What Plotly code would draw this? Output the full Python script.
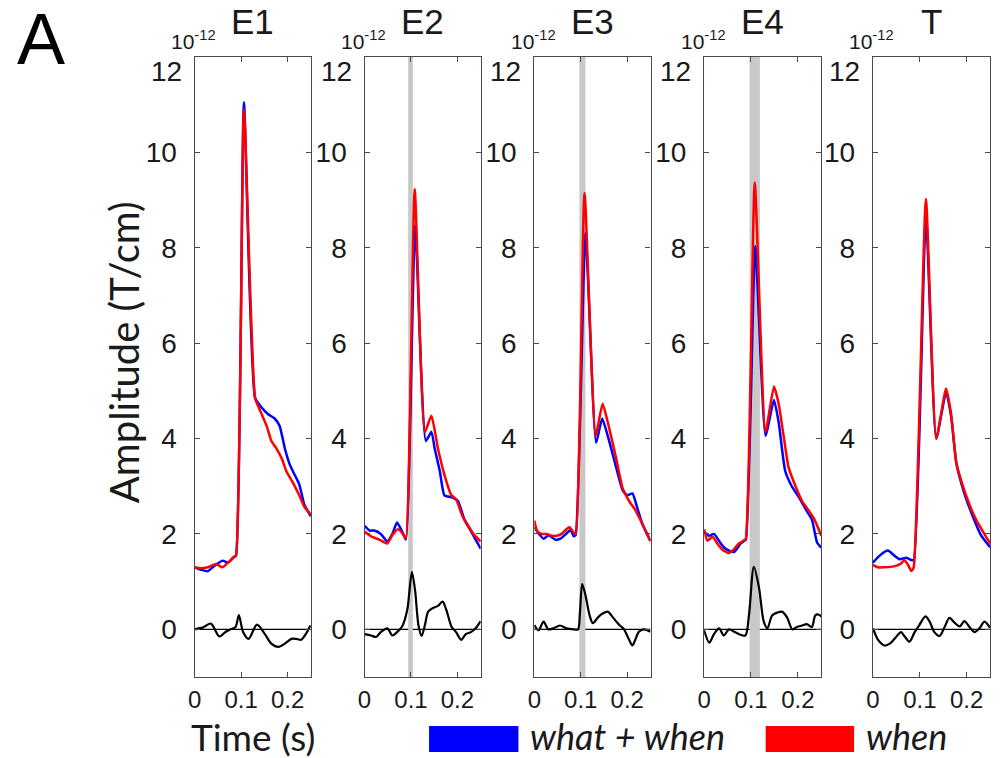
import plotly.graph_objects as go

# ---------------- data (values in 1e-12 T/cm, time in s) ----------------
panels = ["E1", "E2", "E3", "E4", "T"]

E1_t_blue = [0, 0.014, 0.028, 0.045, 0.06, 0.072, 0.085, 0.089, 0.106, 0.130, 0.144, 0.158, 0.172, 0.183, 0.194, 0.204, 0.215, 0.225, 0.236, 0.25]
E1_blue = [1.3, 1.25, 1.22, 1.35, 1.44, 1.4, 1.52, 1.55, 11.05, 4.85, 4.65, 4.51, 4.42, 4.26, 3.79, 3.47, 3.24, 3.04, 2.61, 2.37]
E1_t_red = [0, 0.014, 0.028, 0.046, 0.06, 0.074, 0.085, 0.089, 0.106, 0.130, 0.141, 0.155, 0.165, 0.176, 0.187, 0.197, 0.211, 0.225, 0.236, 0.25]
E1_red = [1.3, 1.28, 1.3, 1.37, 1.3, 1.42, 1.52, 1.55, 10.9, 4.85, 4.58, 4.26, 3.95, 3.79, 3.59, 3.32, 3.08, 2.81, 2.57, 2.41]
E1_t_diff = [0, 0.018, 0.035, 0.053, 0.067, 0.077, 0.088, 0.095, 0.104, 0.116, 0.134, 0.151, 0.165, 0.180, 0.194, 0.208, 0.218, 0.229, 0.239, 0.249]
E1_diff = [0, 0.04, 0.12, -0.15, -0.05, 0.0, 0.05, 0.3, -0.05, -0.2, 0.1, -0.1, -0.3, -0.37, -0.3, -0.2, -0.2, -0.22, -0.1, 0.08]

E2_t_blue = [0, 0.011, 0.021, 0.035, 0.049, 0.060, 0.070, 0.081, 0.089, 0.109, 0.132, 0.144, 0.151, 0.162, 0.172, 0.187, 0.201, 0.215, 0.229, 0.25]
E2_blue = [2.17, 2.07, 2.07, 2.0, 1.84, 2.0, 2.24, 2.05, 1.88, 8.47, 3.95, 4.14, 3.79, 3.32, 2.81, 2.77, 2.69, 2.3, 2.06, 1.69]
E2_t_red = [0, 0.014, 0.032, 0.049, 0.060, 0.072, 0.083, 0.089, 0.108, 0.130, 0.144, 0.158, 0.172, 0.187, 0.197, 0.211, 0.225, 0.236, 0.25]
E2_red = [2.05, 1.95, 1.88, 1.8, 1.98, 2.1, 2.0, 1.9, 9.23, 4.14, 4.48, 3.79, 3.24, 2.81, 2.73, 2.37, 2.14, 1.98, 1.84]
E2_t_diff = [0, 0.014, 0.025, 0.035, 0.049, 0.060, 0.070, 0.081, 0.092, 0.102, 0.109, 0.116, 0.123, 0.130, 0.137, 0.148, 0.158, 0.168, 0.176, 0.187, 0.197, 0.208, 0.218, 0.229, 0.239, 0.25]
E2_diff = [-0.1, -0.13, -0.16, -0.06, 0.02, -0.13, -0.06, 0.06, 0.41, 1.2, 0.8, 0.09, -0.14, 0.09, 0.37, 0.45, 0.49, 0.58, 0.41, 0.06, -0.06, -0.22, -0.1, -0.06, 0.02, 0.17]

E3_t_blue = [0, 0.01, 0.02, 0.031, 0.045, 0.056, 0.068, 0.078, 0.085, 0.089, 0.110, 0.133, 0.146, 0.161, 0.176, 0.190, 0.200, 0.211, 0.222, 0.232, 0.25]
E3_blue = [2.14, 2.0, 1.9, 1.97, 1.88, 1.9, 2.0, 2.08, 1.95, 1.98, 8.31, 3.91, 4.42, 3.95, 3.4, 2.92, 2.81, 2.85, 2.53, 2.22, 1.85]
E3_t_red = [0, 0.006, 0.016, 0.027, 0.038, 0.048, 0.059, 0.069, 0.076, 0.084, 0.089, 0.108, 0.132, 0.147, 0.161, 0.176, 0.190, 0.204, 0.218, 0.232, 0.25]
E3_red = [2.28, 2.06, 2.0, 2.0, 1.96, 1.96, 2.0, 2.1, 2.14, 2.04, 2.0, 9.15, 4.06, 4.73, 4.22, 3.59, 2.96, 2.69, 2.49, 2.22, 1.85]
E3_t_diff = [0, 0.009, 0.020, 0.030, 0.041, 0.055, 0.069, 0.084, 0.094, 0.098, 0.103, 0.110, 0.119, 0.126, 0.137, 0.147, 0.158, 0.169, 0.183, 0.193, 0.204, 0.211, 0.218, 0.225, 0.236, 0.25]
E3_diff = [0.09, -0.02, 0.16, 0.0, 0.02, 0.08, 0.02, 0.0, 0.0, 0.33, 0.95, 0.72, 0.29, 0.13, 0.25, 0.33, 0.37, 0.25, 0.09, 0.0, -0.22, -0.34, -0.2, -0.05, 0.0, -0.05]

E4_t_blue = [0, 0.01, 0.021, 0.032, 0.042, 0.053, 0.064, 0.078, 0.085, 0.089, 0.109, 0.131, 0.149, 0.159, 0.173, 0.187, 0.202, 0.216, 0.230, 0.241, 0.25]
E4_blue = [2.05, 1.96, 2.0, 1.85, 1.72, 1.65, 1.62, 1.8, 1.85, 1.88, 8.03, 4.06, 4.81, 4.34, 3.32, 3.0, 2.77, 2.53, 2.3, 1.82, 1.71]
E4_t_red = [0, 0.007, 0.018, 0.028, 0.039, 0.053, 0.064, 0.074, 0.085, 0.089, 0.108, 0.131, 0.149, 0.159, 0.170, 0.180, 0.195, 0.209, 0.223, 0.234, 0.25]
E4_red = [2.1, 1.86, 1.94, 1.8, 1.67, 1.6, 1.68, 1.8, 1.86, 1.9, 9.37, 4.14, 5.09, 4.73, 4.03, 3.4, 3.0, 2.69, 2.49, 2.33, 1.96]
E4_t_diff = [0, 0.011, 0.021, 0.032, 0.042, 0.053, 0.064, 0.074, 0.088, 0.096, 0.106, 0.117, 0.127, 0.135, 0.145, 0.156, 0.166, 0.177, 0.188, 0.198, 0.209, 0.219, 0.230, 0.237, 0.244, 0.25]
E4_diff = [-0.02, -0.28, -0.1, 0.02, -0.13, 0.0, -0.05, -0.1, -0.13, 0.33, 1.31, 0.88, 0.17, 0.02, 0.29, 0.35, 0.37, 0.25, 0.0, 0.05, 0.08, 0.11, 0.05, 0.29, 0.31, 0.27]

T_t_blue = [0, 0.015, 0.032, 0.045, 0.057, 0.071, 0.082, 0.087, 0.113, 0.135, 0.156, 0.167, 0.178, 0.195, 0.213, 0.230, 0.25]
T_blue = [1.4, 1.55, 1.65, 1.55, 1.47, 1.5, 1.45, 1.45, 8.66, 4.0, 4.97, 4.45, 3.48, 2.85, 2.37, 1.98, 1.72]
T_t_red = [0, 0.01, 0.025, 0.045, 0.06, 0.067, 0.075, 0.082, 0.087, 0.113, 0.135, 0.156, 0.167, 0.178, 0.192, 0.206, 0.220, 0.234, 0.25]
T_red = [1.35, 1.3, 1.3, 1.32, 1.38, 1.45, 1.35, 1.22, 1.3, 9.02, 3.99, 5.05, 4.5, 3.48, 3.0, 2.61, 2.3, 2.06, 1.8]
T_t_diff = [0, 0.011, 0.025, 0.036, 0.046, 0.060, 0.067, 0.078, 0.089, 0.099, 0.112, 0.121, 0.131, 0.142, 0.153, 0.163, 0.174, 0.185, 0.195, 0.206, 0.217, 0.227, 0.238, 0.25]
T_diff = [0.02, -0.22, -0.34, -0.3, -0.2, -0.06, -0.14, -0.26, -0.06, 0.09, 0.27, 0.16, -0.06, -0.14, 0.05, 0.24, 0.14, 0.06, 0.17, 0.05, -0.06, 0.02, 0.16, 0.03]

# significance bands (s) per panel, None = no band
bands = [None, (0.094, 0.104), (0.097, 0.110), (0.097, 0.119), None]

x_ticks = [0, 0.1, 0.2]
x_ticklabels = ["0", "0.1", "0.2"]
y_ticks = [0, 2, 4, 6, 8, 10]
y_ticklabels = ["0", "2", "4", "6", "8", "10"]
top_label = "12"  # top tick label, drawn slightly below the top edge as in the original

series = {
    "E1": (E1_t_blue, E1_blue, E1_t_red, E1_red, E1_t_diff, E1_diff),
    "E2": (E2_t_blue, E2_blue, E2_t_red, E2_red, E2_t_diff, E2_diff),
    "E3": (E3_t_blue, E3_blue, E3_t_red, E3_red, E3_t_diff, E3_diff),
    "E4": (E4_t_blue, E4_blue, E4_t_red, E4_red, E4_t_diff, E4_diff),
    "T": (T_t_blue, T_blue, T_t_red, T_red, T_t_diff, T_diff),
}

# ---------------- layout geometry (pixels) ----------------
W, H = 1008, 758
panel_px = [(189, 306), (360, 477), (531, 648), (702, 820), (872, 990)]
top_px, bot_px = 57, 677


def px_x(p):
    return p / W


def px_y(p):
    return 1 - p / H


AX = "#4a4a4a"
TXT = "#1a1a1a"
TICKFONT = "Liberation Sans, Arial"
fig = go.Figure()
shapes = []
annotations = []

for i, name in enumerate(panels):
    k = "" if i == 0 else str(i + 1)
    xa, ya = "x" + k, "y" + k
    tb, vb, tr, vr, td, vd = series[name]
    fig.add_trace(go.Scatter(x=tb, y=vb, mode="lines",
                             line=dict(color="#0000ff", width=2.5, shape="spline", smoothing=0.5),
                             xaxis=xa, yaxis=ya, showlegend=False, hoverinfo="skip"))
    fig.add_trace(go.Scatter(x=tr, y=vr, mode="lines",
                             line=dict(color="#ff0000", width=2.5, shape="spline", smoothing=0.5),
                             xaxis=xa, yaxis=ya, showlegend=False, hoverinfo="skip"))
    fig.add_trace(go.Scatter(x=td, y=vd, mode="lines",
                             line=dict(color="#000000", width=2.2, shape="spline", smoothing=0.8),
                             xaxis=xa, yaxis=ya, showlegend=False, hoverinfo="skip"))

    l, r = panel_px[i]
    fig.layout["xaxis" + k] = dict(
        domain=[px_x(l), px_x(r)], range=[0, 0.25], anchor=ya,
        tickvals=x_ticks, ticktext=x_ticklabels, ticks="inside", ticklen=5,
        tickcolor=AX, showline=True, linecolor=AX, linewidth=1.3, mirror="ticks",
        showgrid=False, zeroline=False, ticklabelstandoff=1,
        tickfont=dict(family=TICKFONT, size=24, color=TXT),
    )
    fig.layout["yaxis" + k] = dict(
        domain=[px_y(bot_px), px_y(top_px)], range=[-1, 12], anchor=xa,
        tickvals=y_ticks, ticktext=y_ticklabels, ticks="inside", ticklen=5,
        tickcolor=AX, showline=True, linecolor=AX, linewidth=1.3, mirror="ticks",
        showgrid=False, zeroline=False, ticklabelstandoff=11,
        tickfont=dict(family=TICKFONT, size=28, color=TXT),
    )
    # zero line
    shapes.append(dict(type="line", xref=xa, yref=ya, x0=0, x1=0.25, y0=0, y1=0,
                       line=dict(color="#000000", width=1.2), layer="below"))
    # band
    if bands[i] is not None:
        shapes.append(dict(type="rect", xref=xa, yref=ya, x0=bands[i][0], x1=bands[i][1],
                           y0=-1, y1=12, fillcolor="#c8c8c8", line=dict(width=0), layer="below"))
    # top y label
    annotations.append(dict(text=top_label, x=px_x(l - 11), y=px_y(71), xref="paper", yref="paper",
                            xanchor="right", yanchor="middle", showarrow=False,
                            font=dict(family=TICKFONT, size=28, color=TXT)))
    # title
    annotations.append(dict(text=name, x=px_x((l + r) / 2), y=px_y(43), xref="paper", yref="paper",
                            xanchor="center", yanchor="bottom", showarrow=False,
                            font=dict(family=TICKFONT, size=35, color=TXT)))
    # exponent
    annotations.append(dict(text="10<sup>-12</sup>", x=px_x(l - 1), y=px_y(55), xref="paper", yref="paper",
                            xanchor="center", yanchor="bottom", showarrow=False,
                            font=dict(family=TICKFONT, size=21, color=TXT)))

# panel letter
annotations.append(dict(text="A", x=px_x(8), y=px_y(39), xref="paper", yref="paper",
                        xanchor="left", yanchor="middle", showarrow=False,
                        font=dict(family=TICKFONT, size=72, color="#000000")))
# axis titles
annotations.append(dict(text="Amplitude (T/cm)", x=px_x(118), y=px_y(352), xref="paper", yref="paper",
                        xanchor="center", yanchor="middle", textangle=-90, showarrow=False,
                        font=dict(family="Lato", size=40, color=TXT)))
annotations.append(dict(text="Time (s)", x=px_x(248), y=px_y(736), xref="paper", yref="paper",
                        xanchor="center", yanchor="middle", showarrow=False,
                        font=dict(family="Lato", size=37, color=TXT)))

# legend
legend_items = [("what + when", "#0000ff", 425, 515, 525), ("when", "#ff0000", 764, 853, 863)]
for label, col, x0, x1, xt in legend_items:
    shapes.append(dict(type="rect", xref="paper", yref="paper", x0=px_x(x0), x1=px_x(x1),
                       y0=px_y(752), y1=px_y(726), fillcolor=col, line=dict(width=0)))
    annotations.append(dict(text="<i>" + label + "</i>", x=px_x(xt), y=px_y(736), xref="paper", yref="paper",
                            xanchor="left", yanchor="middle", showarrow=False,
                            font=dict(family="Lato", size=36, color=TXT)))

fig.update_layout(width=W, height=H, margin=dict(l=0, r=0, t=0, b=0),
                  paper_bgcolor="white", plot_bgcolor="white",
                  shapes=shapes, annotations=annotations, showlegend=False)

fig.write_html("out.html")
